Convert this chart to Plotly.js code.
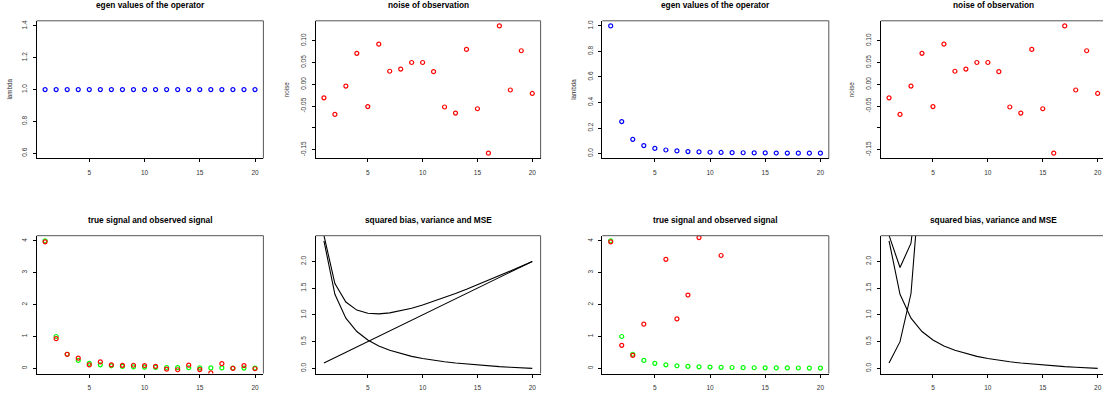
<!DOCTYPE html>
<html>
<head>
<meta charset="utf-8">
<script src="https://cdn.plot.ly/plotly-3.0.1.min.js"></script>
<style>
html,body{margin:0;padding:0;overflow:hidden;background:#fff;width:1103px;height:396px;}
#chart{width:1110px;height:396px;}
</style>
</head>
<body>
<div id="chart"></div>
<script>
// ---- data ----
const idx = [1,2,3,4,5,6,7,8,9,10,11,12,13,14,15,16,17,18,19,20];
const lambdaFlat = [1,1,1,1,1,1,1,1,1,1,1,1,1,1,1,1,1,1,1,1];
const lambdaDecay = [1,0.25,0.111,0.0625,0.04,0.0278,0.0204,0.0156,0.0123,0.01,0.0083,0.0069,0.0059,0.0051,0.0044,0.0039,0.0035,0.0031,0.0028,0.0025];
const noise = [-0.031,-0.069,-0.004,0.071,-0.051,0.092,0.030,0.035,0.050,0.050,0.029,-0.052,-0.066,0.080,-0.056,-0.158,0.134,-0.013,0.077,-0.021];
const trueSignal = [4,1,0.444,0.25,0.16,0.111,0.082,0.0625,0.049,0.04,0.033,0.028,0.024,0.020,0.018,0.016,0.014,0.012,0.011,0.010];
const observed1 = [3.969,0.931,0.440,0.321,0.109,0.203,0.112,0.0975,0.099,0.090,0.062,-0.024,-0.042,0.100,-0.038,-0.142,0.148,-0.001,0.088,-0.011];
const observed2 = [3.969,0.724,0.408,1.386,-1.115,3.42,1.55,2.30,4.10,5.04,3.54,-7.46,-11.13,15.70,-12.58,-40.43,38.74,-4.20,27.81,-8.39];
const bias2 = [2.385,1.385,0.940,0.690,0.530,0.419,0.3375,0.275,0.2256,0.1856,0.1525,0.1247,0.1011,0.0807,0.0629,0.0473,0.0334,0.0211,0.0100,0];
const variance1 = [0.1,0.2,0.3,0.4,0.5,0.6,0.7,0.8,0.9,1.0,1.1,1.2,1.3,1.4,1.5,1.6,1.7,1.8,1.9,2.0];
const mse1 = [2.485,1.585,1.240,1.090,1.030,1.019,1.0375,1.075,1.1256,1.1856,1.2525,1.3247,1.4011,1.4807,1.5629,1.6473,1.7334,1.8211,1.9100,2.0];
const variance2 = [0.1,0.5,1.4,3.0,5.5,9.1,14.0,20.4,28.5,38.5,50.6,65.0,81.9,101.5,124.0,149.6,178.5,210.9,247.0,287.0];
const mse2 = [2.485,1.885,2.340,3.690,6.030,9.519,14.34,20.68,28.73,38.69,50.75,65.12,82.0,101.58,124.06,149.65,178.53,210.92,247.01,287.0];
const titles = ["egen values of the operator","noise of observation","egen values of the operator","noise of observation",
                "true signal and observed signal","squared bias, variance and MSE","true signal and observed signal","squared bias, variance and MSE"];
const xTicks = [5,10,15,20];

// ---- layout geometry (pixels) ----
const W = 1110, H = 396;
const cols = [[36.7,263.4],[315.6,540.6],[602.3,828.8],[880.7,1106]];
const rows = [[20.8,158.3],[235.7,373.5]];
const FONT = "Liberation Sans, Arial, Helvetica, sans-serif";

const layout = {width:W, height:H, margin:{l:0,r:0,t:0,b:0}, showlegend:false,
  paper_bgcolor:"#fff", plot_bgcolor:"#fff", annotations:[], shapes:[]};

const yRanges = [[0.568,1.432],[-0.1697,0.1457],[-0.0374,1.0399],[-0.1697,0.1457],
                 [-0.16,4.16],[-0.095,2.48],[-0.16,4.16],[-0.095,2.48]];
const yTickSets = [
  {v:[0.6,0.8,1.0,1.2,1.4], t:["0.6","0.8","1.0","1.2","1.4"]},
  {v:[-0.15,-0.10,-0.05,0,0.05,0.10], t:["-0.15","","-0.05","0.00","0.05","0.10"]},
  {v:[0,0.2,0.4,0.6,0.8,1.0], t:["0.0","0.2","0.4","0.6","0.8","1.0"]},
  {v:[-0.15,-0.10,-0.05,0,0.05,0.10], t:["-0.15","","-0.05","0.00","0.05","0.10"]},
  {v:[0,1,2,3,4], t:["0","1","2","3","4"]},
  {v:[0,0.5,1,1.5,2], t:["0.0","0.5","1.0","1.5","2.0"]},
  {v:[0,1,2,3,4], t:["0","1","2","3","4"]},
  {v:[0,0.5,1,1.5,2], t:["0.0","0.5","1.0","1.5","2.0"]}
];
const yTitles = ["lambda","noise","lambda","noise","","","",""];
const yTitleX = [10,286.7,573.3,851.7];

for (let p=0;p<8;p++){
  const c = cols[p%4], r = rows[Math.floor(p/4)];
  const n = p===0 ? "" : String(p+1);
  const common = {showgrid:false, zeroline:false, showline:true, linecolor:"#000", linewidth:1,
    ticks:"outside", ticklen:3, tickwidth:1, tickcolor:"#000",
    tickfont:{family:FONT, size:6.5, color:"#333"}, fixedrange:true};
  layout["xaxis"+n] = Object.assign({}, common, {domain:[c[0]/W, c[1]/W], anchor:"y"+n,
    range:[0.24,20.76], tickmode:"array", tickvals:xTicks, ticktext:xTicks.map(String), ticklabelstandoff:5});
  layout["yaxis"+n] = Object.assign({}, common, {domain:[1-r[1]/H, 1-r[0]/H], anchor:"x"+n,
    range:yRanges[p], tickmode:"array", tickvals:yTickSets[p].v, ticktext:yTickSets[p].t, tickangle:-90, ticklabelstandoff:3});
  // top and right box edges
  layout.shapes.push({type:"line", xref:"paper", yref:"paper", x0:c[0]/W, x1:c[1]/W, y0:1-r[0]/H, y1:1-r[0]/H, line:{color:"#555", width:1}});
  layout.shapes.push({type:"line", xref:"paper", yref:"paper", x0:c[1]/W, x1:c[1]/W, y0:1-r[0]/H, y1:1-r[1]/H, line:{color:"#555", width:1}});
  layout.annotations.push({text:"<b>"+titles[p]+"</b>", xref:"paper", yref:"paper", x:(c[0]+c[1])/2/W, y:1-(r[0]-16)/H,
    xanchor:"center", yanchor:"middle", showarrow:false, font:{family:FONT, size:8.3, color:"#000"}});
  if (yTitles[p]) {
    layout.annotations.push({text:yTitles[p], xref:"paper", yref:"paper", x:yTitleX[p%4]/W, y:1-((r[0]+r[1])/2)/H,
      xanchor:"center", yanchor:"middle", textangle:-90, showarrow:false, font:{family:FONT, size:6.3, color:"#333"}});
  }
}

function pts(xa, ya, yv, color){
  return {type:"scatter", mode:"markers", x:idx, y:yv, xaxis:xa, yaxis:ya, cliponaxis:true,
    marker:{symbol:"circle-open", size:4, color:color, line:{width:1.2, color:color}}, hoverinfo:"skip"};
}
function ln(xa, ya, yv){
  return {type:"scatter", mode:"lines", x:idx, y:yv, xaxis:xa, yaxis:ya,
    line:{color:"#000", width:1.1}, hoverinfo:"skip"};
}

const data = [
  pts("x","y",lambdaFlat,"#0000ff"),
  pts("x2","y2",noise,"#ff0000"),
  pts("x3","y3",lambdaDecay,"#0000ff"),
  pts("x4","y4",noise,"#ff0000"),
  pts("x5","y5",trueSignal,"#00ff00"),
  pts("x5","y5",observed1,"#ff0000"),
  ln("x6","y6",bias2), ln("x6","y6",variance1), ln("x6","y6",mse1),
  pts("x7","y7",trueSignal,"#00ff00"),
  pts("x7","y7",observed2,"#ff0000"),
  ln("x8","y8",bias2), ln("x8","y8",variance2), ln("x8","y8",mse2)
];

Plotly.newPlot("chart", data, layout, {staticPlot:true, displayModeBar:false});
</script>
</body>
</html>
